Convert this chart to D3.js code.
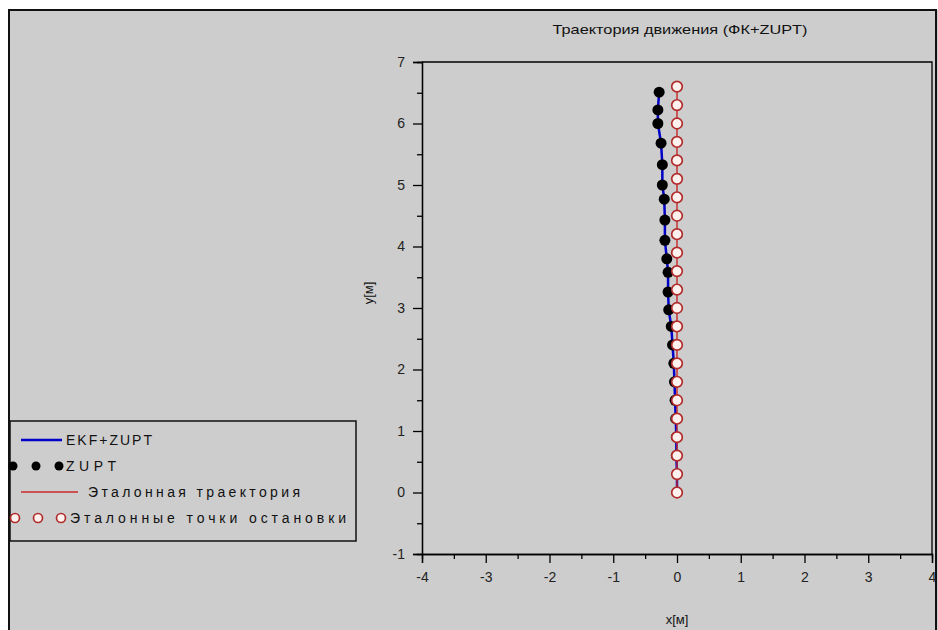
<!DOCTYPE html>
<html>
<head>
<meta charset="utf-8">
<script src="https://cdn.jsdelivr.net/npm/d3@7"></script>
<style>
  body { margin: 0; background: #ffffff; }
  svg { display: block; font-family: "Liberation Sans", Arial, sans-serif; }
</style>
</head>
<body>
<div id="chart"></div>
<script>
// reference track: stop points every 0.3 m along x = 0
var refX = [0, 0, 0, 0, 0, 0, 0, 0, 0, 0, 0, 0, 0, 0, 0, 0, 0, 0, 0, 0, 0, 0, 0];
var refY = [0, 0.3, 0.6, 0.9, 1.2, 1.5, 1.8, 2.1, 2.4, 2.7, 3.0, 3.3, 3.6, 3.9, 4.2, 4.5, 4.8, 5.1, 5.4, 5.7, 6.0, 6.3, 6.6];

// ZUPT detected positions (estimated)
var zuptX = [0, 0, -0.01, -0.01, -0.02, -0.03, -0.04, -0.05, -0.07, -0.09, -0.13, -0.14, -0.14, -0.16, -0.19, -0.19, -0.20, -0.23, -0.23, -0.25, -0.30, -0.30, -0.28];
var zuptY = [0, 0.3, 0.6, 0.9, 1.2, 1.5, 1.8, 2.1, 2.4, 2.7, 2.97, 3.26, 3.58, 3.8, 4.1, 4.43, 4.77, 5.0, 5.33, 5.68, 6.0, 6.22, 6.51];

// EKF+ZUPT track
var ekfX = [0, 0, -0.01, -0.01, -0.02, -0.03, -0.04, -0.05, -0.07, -0.09, -0.13, -0.14, -0.14, -0.16, -0.19, -0.19, -0.20, -0.23, -0.23, -0.25, -0.30, -0.30, -0.28];
var ekfY = [0, 0.3, 0.6, 0.9, 1.2, 1.5, 1.8, 2.1, 2.4, 2.7, 2.97, 3.26, 3.58, 3.8, 4.1, 4.43, 4.77, 5.0, 5.33, 5.68, 6.0, 6.22, 6.51];

var xTicks = [-4, -3, -2, -1, 0, 1, 2, 3, 4];
var yTicks = [-1, 0, 1, 2, 3, 4, 5, 6, 7];
var xMinor = [-3.5, -2.5, -1.5, -0.5, 0.5, 1.5, 2.5, 3.5];
var yMinor = [-0.5, 0.5, 1.5, 2.5, 3.5, 4.5, 5.5, 6.5];

var legendLabels = ["EKF+ZUPT", "ZUPT", "Эталонная траектория", "Эталонные точки остановки"];

var W = 938, H = 630;
var plotL = 422, plotR = 932, plotT = 62, plotB = 554;

var svg = d3.select("#chart").append("svg").attr("width", W).attr("height", H);

// figure panel
svg.append("rect").attr("x", 9).attr("y", 10).attr("width", W - 9).attr("height", H - 10)
  .attr("fill", "#cdcdcd");
svg.append("path").attr("d", "M9," + H + "V10H936V" + H)
  .attr("fill", "none").attr("stroke", "#111").attr("stroke-width", 2);

var x = d3.scaleLinear().domain([-4, 4]).range([plotL, plotR]);
var y = d3.scaleLinear().domain([-1, 7]).range([plotB, plotT]);

// box top/right
svg.append("path").attr("d", "M" + plotL + "," + plotT + "H" + plotR + "V" + plotB)
  .attr("fill", "none").attr("stroke", "#000").attr("stroke-width", 1.3);

function styleAxis(g){
  g.select(".domain").attr("stroke", "#000").attr("stroke-width", 1.3);
  g.selectAll(".tick line").attr("stroke", "#000").attr("stroke-width", 1.3);
  g.selectAll(".tick text").attr("fill", "#222").style("font-size", "14px")
    .style("font-family", "Liberation Sans, Arial, sans-serif");
}

var gx = svg.append("g").attr("transform", "translate(0," + plotB + ")")
  .call(d3.axisBottom(x).tickValues(xTicks).tickSize(9).tickPadding(9).tickFormat(function(d){return String(d)}));
styleAxis(gx);
var gxm = svg.append("g").attr("transform", "translate(0," + plotB + ")")
  .call(d3.axisBottom(x).tickValues(xMinor).tickSize(5).tickFormat(""));
styleAxis(gxm);

var gy = svg.append("g").attr("transform", "translate(" + plotL + ",0)")
  .call(d3.axisLeft(y).tickValues(yTicks).tickSize(9).tickPadding(8).tickFormat(function(d){return String(d)}));
styleAxis(gy);
var gym = svg.append("g").attr("transform", "translate(" + plotL + ",0)")
  .call(d3.axisLeft(y).tickValues(yMinor).tickSize(5).tickFormat(""));
styleAxis(gym);

// titles
svg.append("text").attr("x", 680).attr("y", 34).attr("text-anchor", "middle")
  .attr("textLength", 255).attr("lengthAdjust", "spacingAndGlyphs")
  .style("font-size", "13px").attr("fill", "#111").text("Траектория движения (ФК+ZUPT)");
svg.append("text").attr("x", 677).attr("y", 624).attr("text-anchor", "middle")
  .style("font-size", "13px").attr("fill", "#111").text("x[м]");
svg.append("text").attr("transform", "translate(373,293) rotate(-90)").attr("text-anchor", "middle")
  .style("font-size", "13px").attr("fill", "#111").text("y[м]");

var lineGen = d3.line().x(function(d){return x(d[0])}).y(function(d){return y(d[1])});

var ekf = ekfX.map(function(v, i){return [v, ekfY[i]]});
var zupt = zuptX.map(function(v, i){return [v, zuptY[i]]});
var ref = refX.map(function(v, i){return [v, refY[i]]});

svg.append("path").datum(ekf).attr("d", lineGen)
  .attr("fill", "none").attr("stroke", "#0000c8").attr("stroke-width", 2.5);

svg.selectAll(".zupt").data(zupt).enter().append("circle")
  .attr("class", "zupt")
  .attr("cx", function(d){return x(d[0])})
  .attr("cy", function(d){return y(d[1])})
  .attr("r", 5.5).attr("fill", "#000");

svg.append("path").datum(ref).attr("d", lineGen)
  .attr("fill", "none").attr("stroke", "#c82828").attr("stroke-width", 1.4);

svg.selectAll(".ref").data(ref).enter().append("circle")
  .attr("class", "ref")
  .attr("cx", function(d){return x(d[0])})
  .attr("cy", function(d){return y(d[1])})
  .attr("r", 5.3).attr("fill", "#fff2ee").attr("stroke", "#b02c2c").attr("stroke-width", 1.7);

// legend
var lg = svg.append("g");
lg.append("rect").attr("x", 10).attr("y", 421).attr("width", 346).attr("height", 120)
  .attr("fill", "none").attr("stroke", "#111").attr("stroke-width", 1.5);

var rowY = [440, 466, 492, 518];
var textX = [66, 66, 88, 70];
var textW = [86, 50, 212, 276];

lg.append("line").attr("x1", 21).attr("x2", 62).attr("y1", rowY[0]).attr("y2", rowY[0])
  .attr("stroke", "#0000c8").attr("stroke-width", 2.5);
lg.selectAll(".ldot").data([13, 36, 59]).enter().append("circle")
  .attr("cx", function(d){return d}).attr("cy", rowY[1]).attr("r", 4.5).attr("fill", "#000");
lg.append("line").attr("x1", 21).attr("x2", 78).attr("y1", rowY[2]).attr("y2", rowY[2])
  .attr("stroke", "#c82828").attr("stroke-width", 1.4);
lg.selectAll(".lcirc").data([15, 38, 61]).enter().append("circle")
  .attr("cx", function(d){return d}).attr("cy", rowY[3]).attr("r", 4.5)
  .attr("fill", "#fff2ee").attr("stroke", "#b02c2c").attr("stroke-width", 1.7);

lg.selectAll(".ltext").data(legendLabels).enter().append("text")
  .attr("x", function(d, i){return textX[i]})
  .attr("y", function(d, i){return rowY[i] + 5})
  .attr("textLength", function(d, i){return textW[i]})
  .attr("lengthAdjust", "spacing")
  .style("font-size", "14px").attr("fill", "#111")
  .text(function(d){return d});
</script>
</body>
</html>
